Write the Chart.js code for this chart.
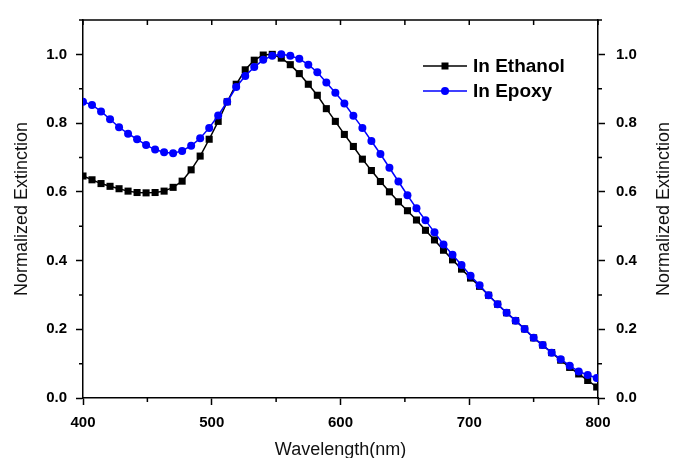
<!DOCTYPE html>
<html>
<head>
<meta charset="utf-8">
<script src="https://cdn.jsdelivr.net/npm/chart.js@4"></script>
<style>
  html, body { margin: 0; padding: 0; background: #fff; }
  #wrap { width: 674px; height: 458px; }
</style>
</head>
<body>
<div id="wrap"><canvas id="chart"></canvas></div>
<script>
// Extinction spectra, normalized; one point every 7 nm.
const wavelength = [
  400, 407, 414, 421, 428, 435, 442, 449, 456, 463,
  470, 477, 484, 491, 498, 505, 512, 519, 526, 533,
  540, 547, 554, 561, 568, 575, 582, 589, 596, 603,
  610, 617, 624, 631, 638, 645, 652, 659, 666, 673,
  680, 687, 694, 701, 708, 715, 722, 729, 736, 743,
  750, 757, 764, 771, 778, 785, 792, 799,
];
const ethanol = [
  0.646, 0.635, 0.624, 0.616, 0.609, 0.602, 0.598, 0.597, 0.598, 0.602,
  0.613, 0.631, 0.664, 0.704, 0.753, 0.805, 0.862, 0.913, 0.955, 0.983,
  0.998, 1.000, 0.989, 0.970, 0.944, 0.913, 0.881, 0.842, 0.805, 0.767,
  0.732, 0.695, 0.662, 0.630, 0.600, 0.571, 0.545, 0.518, 0.488, 0.460,
  0.430, 0.402, 0.375, 0.349, 0.325, 0.299, 0.273, 0.248, 0.225, 0.201,
  0.175, 0.154, 0.132, 0.110, 0.089, 0.070, 0.051, 0.032,
];
const epoxy = [
  0.862, 0.853, 0.834, 0.811, 0.788, 0.769, 0.753, 0.736, 0.723, 0.715,
  0.712, 0.719, 0.734, 0.756, 0.786, 0.822, 0.862, 0.905, 0.937, 0.963,
  0.984, 0.996, 1.000, 0.996, 0.987, 0.970, 0.948, 0.918, 0.888, 0.857,
  0.821, 0.786, 0.748, 0.710, 0.670, 0.630, 0.590, 0.552, 0.517, 0.482,
  0.447, 0.417, 0.387, 0.356, 0.328, 0.299, 0.273, 0.248, 0.225, 0.201,
  0.175, 0.154, 0.132, 0.113, 0.094, 0.077, 0.067, 0.058,
];
const seriesLabels = ["In Ethanol", "In Epoxy"];
const xTitle = "Wavelength(nm)";
const yTitle = "Normalized Extinction";

const FONT = "'Liberation Sans', Arial, sans-serif";
const tickFont = { family: FONT, size: 15, weight: "bold" };
const titleFont = { family: FONT, size: 18, weight: "normal" };

const pts = (ys) => wavelength.map((x, i) => ({ x, y: ys[i] }));

// keep only multiples of 0.2 (drops the 1.1 end tick chart.js adds)
const onlyFifths = (s) => {
  s.ticks = s.ticks.filter((t) => Math.abs(t.value * 5 - Math.round(t.value * 5)) < 1e-6);
};

// half-step values between the major ticks of a scale
function minorValues(scale) {
  const v = scale.ticks.map((t) => t.value);
  if (v.length < 2) return [];
  const half = (v[1] - v[0]) / 2;
  const out = [];
  for (let m = v[0] + half; m <= scale.max + 1e-9; m += 2 * half) out.push(m);
  return out;
}

const frame = {
  id: "frame",
  afterDraw(chart) {
    const { ctx, chartArea: a, scales } = chart;
    ctx.save();
    ctx.strokeStyle = "#000";
    ctx.lineWidth = 1.5;
    ctx.beginPath();
    // top edge, ticks pointing inward
    ctx.moveTo(a.left, a.top);
    ctx.lineTo(a.right, a.top);
    const topVals = scales.x.ticks.map((t) => t.value).concat(minorValues(scales.x));
    topVals.forEach((v) => {
      const px = scales.x.getPixelForValue(v);
      ctx.moveTo(px, a.top);
      ctx.lineTo(px, a.top + 5);
    });
    // short outward minor ticks
    minorValues(scales.x).forEach((v) => {
      const px = scales.x.getPixelForValue(v);
      ctx.moveTo(px, a.bottom);
      ctx.lineTo(px, a.bottom + 4);
    });
    minorValues(scales.y).forEach((v) => {
      const py = scales.y.getPixelForValue(v);
      ctx.moveTo(a.left - 4, py);
      ctx.lineTo(a.left, py);
    });
    minorValues(scales.y2).forEach((v) => {
      const py = scales.y2.getPixelForValue(v);
      ctx.moveTo(a.right, py);
      ctx.lineTo(a.right + 4, py);
    });
    ctx.stroke();

    // right-hand title reads bottom-to-top like the left one
    ctx.fillStyle = "#111";
    ctx.font = `${titleFont.size}px ${FONT}`;
    ctx.textAlign = "center";
    ctx.textBaseline = "middle";
    ctx.translate(664, (a.top + a.bottom) / 2);
    ctx.rotate(-Math.PI / 2);
    ctx.fillText(yTitle, 0, 0);
    ctx.restore();

    // legend: line with marker in the middle, label to the right
    ctx.save();
    ctx.font = `bold 19px ${FONT}`;
    ctx.textBaseline = "middle";
    chart.data.datasets.forEach((ds, i) => {
      const y = 66 + 25 * i;
      ctx.strokeStyle = ds.borderColor;
      ctx.fillStyle = ds.borderColor;
      ctx.lineWidth = 1.5;
      ctx.beginPath();
      ctx.moveTo(423, y);
      ctx.lineTo(467, y);
      ctx.stroke();
      ctx.beginPath();
      if (ds.pointStyle === "rect") ctx.rect(441.5, y - 3.5, 7, 7);
      else ctx.arc(445, y, 4, 0, Math.PI * 2);
      ctx.fill();
      ctx.fillStyle = "#000";
      ctx.fillText(ds.label, 473, y + 1);
    });
    ctx.restore();
  },
};

const yAxis = (position, pad) => ({
  type: "linear",
  position,
  min: 0,
  max: 1.1,
  afterBuildTicks: onlyFifths,
  afterFit: (s) => { s.width = position === "left" ? 83 : 76; },
  ticks: { stepSize: 0.2, font: tickFont, color: "#000", padding: pad, callback: (v) => v.toFixed(1) },
  grid: { drawOnChartArea: false, tickLength: 7, tickColor: "#000", tickWidth: 1.5 },
  border: { color: "#000", width: 1.5 },
  title: {
    display: position === "left",
    text: yTitle,
    color: "#111",
    font: titleFont,
    padding: { top: 11, bottom: 0 },
  },
});

new Chart(document.getElementById("chart"), {
  type: "line",
  data: {
    datasets: [
      {
        label: seriesLabels[0], data: pts(ethanol), order: 1,
        borderColor: "#000", backgroundColor: "#000", borderWidth: 1.5,
        pointStyle: "rect", pointRadius: 5, pointBorderWidth: 0, tension: 0,
      },
      {
        label: seriesLabels[1], data: pts(epoxy), order: 0,
        borderColor: "#0000ff", backgroundColor: "#0000ff", borderWidth: 1.5,
        pointStyle: "circle", pointRadius: 4, pointBorderWidth: 0, tension: 0,
      },
    ],
  },
  options: {
    responsive: true,
    maintainAspectRatio: false,
    animation: false,
    layout: { padding: { top: 14, left: 0, right: 0, bottom: 0 } },
    plugins: { legend: { display: false }, tooltip: { enabled: false } },
    scales: {
      x: {
        type: "linear",
        min: 400,
        max: 800,
        afterFit: (s) => { s.height = 60; },
        ticks: { stepSize: 100, font: tickFont, color: "#000", padding: 9, maxRotation: 0 },
        grid: { drawOnChartArea: false, tickLength: 7, tickColor: "#000", tickWidth: 1.5 },
        border: { color: "#000", width: 1.5 },
        title: { display: true, text: xTitle, color: "#111", font: titleFont, padding: { top: 0, bottom: -3 } },
      },
      y: yAxis("left", 9),
      y2: yAxis("right", 11),
    },
  },
  plugins: [frame],
});
</script>
</body>
</html>
